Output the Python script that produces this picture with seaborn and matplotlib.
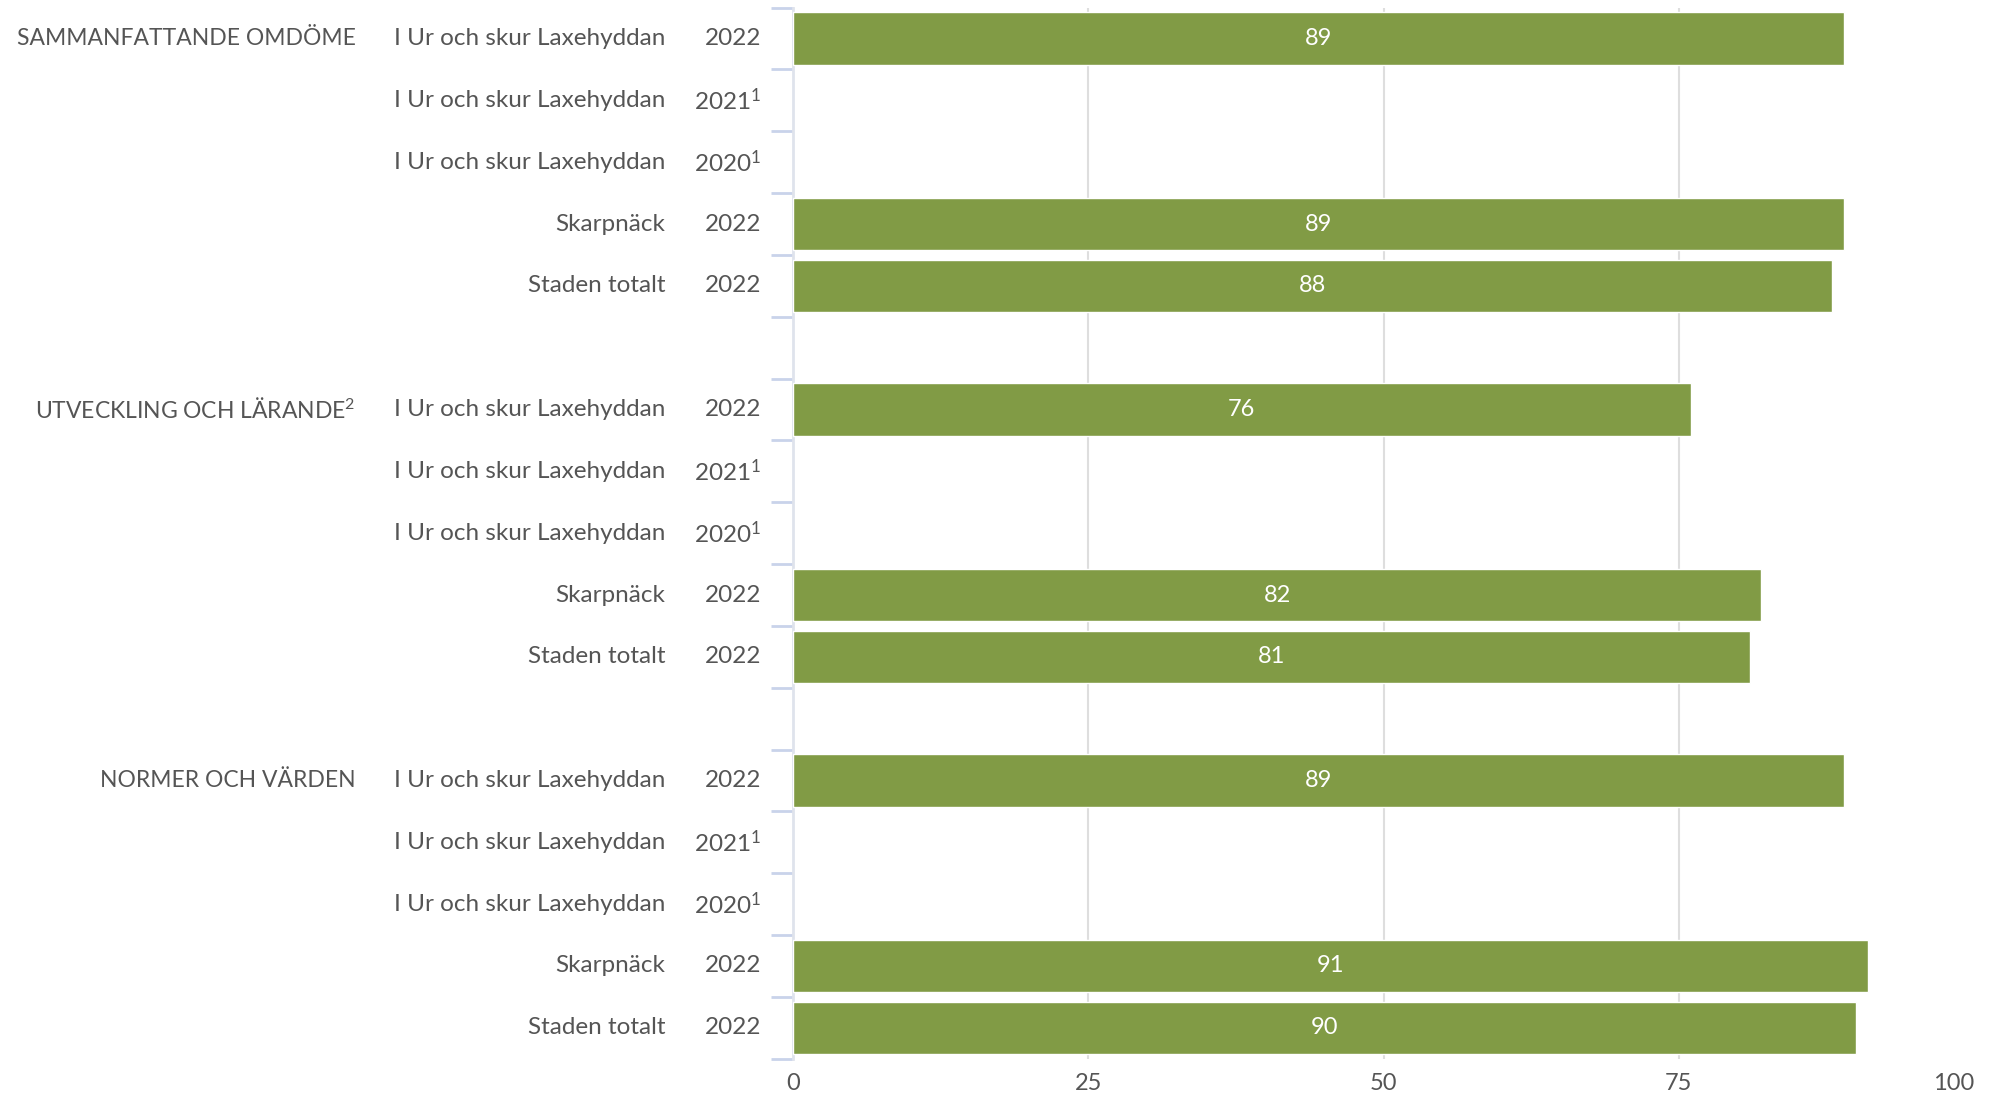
import matplotlib
matplotlib.use("Agg")
import matplotlib.pyplot as plt
import matplotlib.transforms as mtransforms
import numpy as np
import pandas as pd
import seaborn as sns

sns.set_theme(style="white")
plt.rcParams["font.family"] = ["Lato", "DejaVu Sans"]
plt.rcParams["mathtext.fontset"] = "custom"
plt.rcParams["mathtext.rm"] = "Lato"
plt.rcParams["mathtext.it"] = "Lato"

TEXT = "#555555"
GREEN = "#819b45"

# three groups of five rows, blank slot between groups
groups = ["SAMMANFATTANDE OMDÖME", "UTVECKLING OCH LÄRANDE$^{2}$", "NORMER OCH VÄRDEN"]
units = ["I Ur och skur Laxehyddan", "I Ur och skur Laxehyddan", "I Ur och skur Laxehyddan",
         "Skarpnäck", "Staden totalt"]
years = ["2022", "2021$^{1}$", "2020$^{1}$", "2022", "2022"]
values = [
    [89, np.nan, np.nan, 89, 88],
    [76, np.nan, np.nan, 82, 81],
    [89, np.nan, np.nan, 91, 90],
]
x_ticks = [0, 25, 50, 75, 100]

rows = []
for gi, g in enumerate(groups):
    for ui in range(len(units)):
        rows.append({"slot": f"{gi}-{ui}", "group": g if ui == 0 else "",
                     "unit": units[ui], "year": years[ui], "value": values[gi][ui]})
    if gi < len(groups) - 1:
        rows.append({"slot": f"{gi}-gap", "group": "", "unit": "", "year": "", "value": np.nan})
df = pd.DataFrame(rows)
order = list(df["slot"])

fig = plt.figure(figsize=(19.98, 10.96), dpi=100)
ax = fig.add_axes([0.397, 0.034, 0.591, 0.959])

sns.barplot(data=df, x="value", y="slot", order=order, orient="h", color=GREEN,
            saturation=1, width=0.85, ax=ax, errorbar=None, zorder=3)

ax.set_xlim(0, 100)
ax.set_ylim(len(order) - 0.5, -0.5)
ax.set_xlabel("")
ax.set_ylabel("")

# vertical grid
for t in x_ticks[1:-1]:
    ax.axvline(t, color="#dedede", lw=1.5, zorder=0)

for s in ["top", "right", "bottom"]:
    ax.spines[s].set_visible(False)
ax.spines["left"].set_color("#dfe3ec")
ax.spines["left"].set_linewidth(2)

ax.set_xticks(x_ticks)
ax.set_xticklabels([str(t) for t in x_ticks], color=TEXT, fontsize=17)
ax.tick_params(axis="x", length=0, pad=10)
ax.get_xticklabels()[-1].set_horizontalalignment("right")

# y ticks at slot boundaries
ax.set_yticks(np.arange(-0.5, len(order), 1.0))
ax.set_yticklabels([])
ax.tick_params(axis="y", left=True, length=16, width=2, color="#c9d3ea", direction="out")

# value labels
for i, v in enumerate(df["value"]):
    if not np.isnan(v):
        ax.text(v / 2, i, f"{v:.0f}", ha="center", va="center", color="white",
                fontsize=17, zorder=4)

# label columns
trans = mtransforms.blended_transform_factory(fig.transFigure, ax.transData)
for i, r in df.iterrows():
    if r["group"]:
        ax.text(0.178, i, r["group"], transform=trans, ha="right", va="center",
                color=TEXT, fontsize=16.5)
    if r["unit"]:
        ax.text(0.333, i, r["unit"], transform=trans, ha="right", va="center",
                color=TEXT, fontsize=17.5)
    if r["year"]:
        ax.text(0.381, i, r["year"], transform=trans, ha="right", va="center",
                color=TEXT, fontsize=17.5)

fig.savefig("out.png", dpi=100)
